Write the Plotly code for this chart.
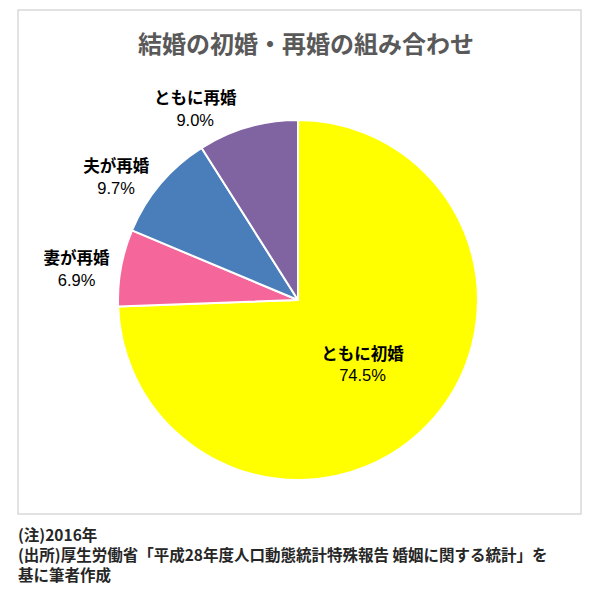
import plotly.graph_objects as go

labels = ["ともに初婚", "妻が再婚", "夫が再婚", "ともに再婚"]
values = [74.5, 6.9, 9.7, 9.0]
colors = ["#FFFF00", "#F5669A", "#4A7EBB", "#8064A2"]
text_pos = ["inside", "outside", "outside", "outside"]

title_text = "結婚の初婚・再婚の組み合わせ"
note_lines = [
    "(注)2016年",
    "(出所)厚生労働省「平成28年度人口動態統計特殊報告 婚姻に関する統計」を",
    "基に筆者作成",
]

W, H = 610, 596
FONT = "Noto Sans CJK JP"

fig = go.Figure(
    go.Pie(
        labels=labels,
        values=values,
        sort=False,
        direction="clockwise",
        rotation=0,
        marker=dict(colors=colors, line=dict(color="white", width=2)),
        texttemplate="<b>%{label}</b><br><span style='font-family:Liberation Sans'>%{value:.1f}%</span>",
        textposition=text_pos,
        textfont=dict(family=FONT, size=16.5, color="#000000"),
        insidetextorientation="horizontal",
        domain=dict(x=[118 / W, 478 / W], y=[1 - 480 / H, 1 - 120 / H]),
        showlegend=False,
        hoverinfo="label+percent",
    )
)

annotations = [
    dict(text="<b>" + title_text + "</b>", xref="paper", yref="paper",
         x=306 / W, y=1 - 43 / H, xanchor="center", yanchor="middle",
         showarrow=False, font=dict(family=FONT, size=24, color="#595959")),
    dict(text="<br>".join("<b>" + s + "</b>" for s in note_lines),
         xref="paper", yref="paper", x=16 / W, y=1 - 521 / H,
         xanchor="left", yanchor="top", align="left", showarrow=False,
         font=dict(family=FONT, size=15.5, color="#262626")),
]

fig.update_layout(
    width=W,
    height=H,
    margin=dict(l=0, r=0, t=0, b=0),
    paper_bgcolor="white",
    plot_bgcolor="white",
    font=dict(family=FONT),
    shapes=[
        dict(type="rect", xref="paper", yref="paper",
             x0=18 / W, x1=581 / W, y0=1 - 514 / H, y1=1 - 10 / H,
             line=dict(color="#D9D9D9", width=1.5), fillcolor="rgba(0,0,0,0)",
             layer="below"),
    ],
    annotations=annotations,
)

fig.write_html("out.html")
